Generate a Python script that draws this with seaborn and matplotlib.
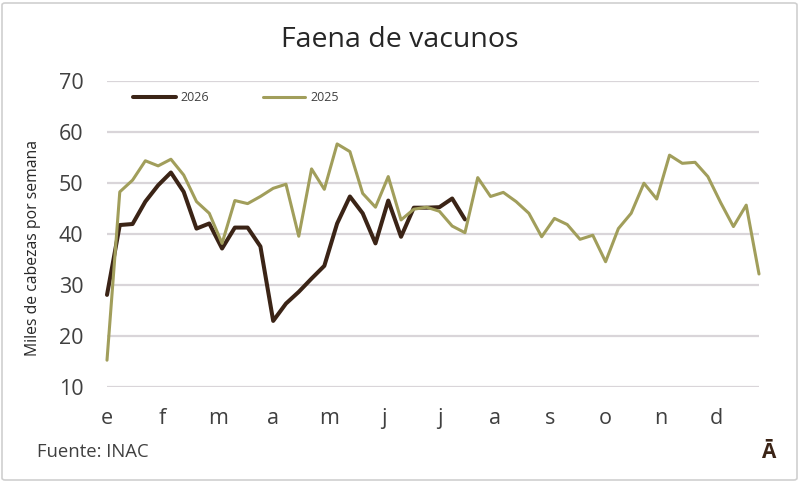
import matplotlib
matplotlib.use("Agg")
import matplotlib.pyplot as plt
import seaborn as sns
import pandas as pd
import numpy as np
from matplotlib.patches import FancyBboxPatch
from matplotlib.lines import Line2D

# ---- data ----
months = ['e', 'f', 'm', 'a', 'm', 'j', 'j', 'a', 's', 'o', 'n', 'd']
v2025 = [15.2, 48.2, 50.5, 54.3, 53.3, 54.6, 51.5, 46.3, 44.0, 38.1,
         46.5, 45.9, 47.3, 48.9, 49.7, 39.5, 52.7, 48.7, 57.6, 56.1,
         47.9, 45.2, 51.2, 42.7, 44.8, 45.2, 44.4, 41.5, 40.2, 51.0,
         47.3, 48.1, 46.3, 44.0, 39.4, 43.0, 41.8, 38.9, 39.7, 34.5,
         41.0, 44.0, 49.9, 46.8, 55.4, 53.8, 54.0, 51.2, 46.1, 41.4,
         45.6, 32.1]
v2026 = [28.0, 41.7, 41.9, 46.3, 49.5, 52.0, 48.2, 41.0, 42.0, 37.1,
         41.2, 41.2, 37.5, 22.9, 26.3, 28.6, 31.2, 33.7, 42.0, 47.3,
         44.0, 38.1, 46.5, 39.4, 45.1, 45.1, 45.2, 46.9, 42.8]
yticks = [10, 20, 30, 40, 50, 60, 70]

df = pd.concat([
    pd.DataFrame({'semana': np.arange(len(v2026)), 'valor': v2026, 'serie': '2026'}),
    pd.DataFrame({'semana': np.arange(len(v2025)), 'valor': v2025, 'serie': '2025'}),
])

sns.set_theme(style="white")
plt.rcParams['font.family'] = ['Open Sans', 'DejaVu Sans']

W, H = 800, 482
fig = plt.figure(figsize=(W / 100, H / 100), dpi=100)
ax = fig.add_axes([107 / W, 1 - 386.7 / H, (759 - 107) / W, (386.7 - 80.7) / H])

palette = {'2026': '#3b2416', '2025': '#a19e5b'}
sns.lineplot(data=df, x='semana', y='valor', hue='serie', palette=palette,
             size='serie', sizes={'2026': 2.9, '2025': 2.2}, ax=ax, legend=False)
for ln in ax.lines:
    ln.set_clip_on(False)
    ln.set_solid_joinstyle('round')

ax.set_xlim(0, len(v2025) - 1)
ax.set_ylim(10, 70)
ax.set_yticks(yticks)
ax.set_yticklabels([str(t) for t in yticks])
ax.set_xticks([i * 52 / 12 for i in range(12)])
ax.set_xticklabels(months)
ax.yaxis.grid(True, color='#d9d5d9', linewidth=1.6)
ax.xaxis.grid(False)
ax.set_axisbelow(True)
for s in ax.spines.values():
    s.set_visible(False)
ax.tick_params(axis='y', length=0, pad=17, labelsize=15.5, labelcolor='#404040')
ax.tick_params(axis='x', length=0, pad=15, labelsize=15.5, labelcolor='#404040')
ax.set_xlabel('')
ax.set_ylabel('')

# legend
handles = [Line2D([], [], color=palette['2026'], lw=2.9),
           Line2D([], [], color=palette['2025'], lw=2.2)]
leg = ax.legend(handles, ['2026', '2025'], ncol=2, frameon=False,
                loc='center left', bbox_to_anchor=((133 - 107) / (759 - 107), (386.7 - 97.5) / 306),
                fontsize=9, handlelength=3.4, handletextpad=0.4, columnspacing=4.3,
                borderaxespad=0, borderpad=0)
for t in leg.get_texts():
    t.set_color('#404040')

fig.text(400 / W, 1 - 40 / H, 'Faena de vacunos', ha='center', va='center',
         fontsize=20.5, color='#262626')
fig.text(33 / W, 1 - 248 / H, 'Miles de cabezas por semana', rotation=90,
         ha='center', va='center', fontsize=11.3, color='#262626')
fig.text(37 / W, 1 - 452 / H, 'Fuente: INAC', ha='left', va='center',
         fontsize=13.3, color='#404040')
fig.text(768 / W, 1 - 452 / H, 'Ā', ha='center', va='center',
         fontsize=15, fontweight='bold', color='#3b2416')

# border
fig.patches.append(FancyBboxPatch((2 / W, 2 / H), 1 - 5 / W, 1 - 5 / H,
                                  boxstyle='round,pad=0,rounding_size=0.004',
                                  transform=fig.transFigure, fill=False,
                                  edgecolor='#d0d0d0', linewidth=1.2))

fig.savefig('out.png', dpi=100)
